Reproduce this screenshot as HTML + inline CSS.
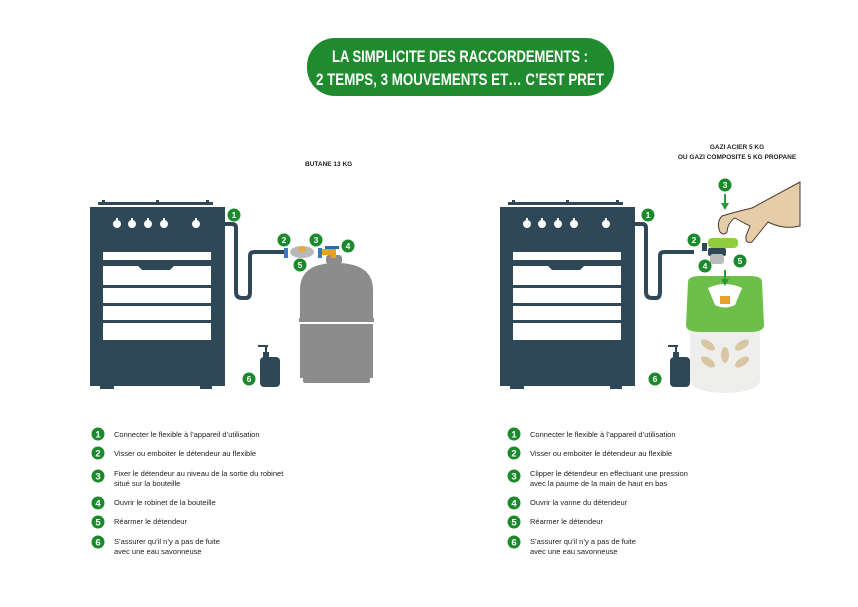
<!DOCTYPE html>
<html><head><meta charset="utf-8"><style>
html,body{margin:0;padding:0;background:#fff}
svg{display:block}
text{font-family:"Liberation Sans",sans-serif}
</style></head><body>
<svg width="858" height="607" viewBox="0 0 858 607" xmlns="http://www.w3.org/2000/svg">
<defs>
<g id="stove">
  <rect x="98" y="202" width="115" height="3" fill="#2f4858"/>
  <rect x="102" y="200" width="3" height="5" fill="#2f4858"/>
  <rect x="156" y="200" width="3" height="5" fill="#2f4858"/>
  <rect x="206" y="200" width="3" height="5" fill="#2f4858"/>
  <rect x="90" y="207" width="135" height="179" fill="#2f4858"/>
  <rect x="100" y="385" width="14" height="4" fill="#2f4858"/>
  <rect x="200" y="385" width="12" height="4" fill="#2f4858"/>
  <g fill="#fff">
    <circle cx="117" cy="224" r="4"/><rect x="116" y="218" width="2" height="4"/>
    <circle cx="132" cy="224" r="4"/><rect x="131" y="218" width="2" height="4"/>
    <circle cx="148" cy="224" r="4"/><rect x="147" y="218" width="2" height="4"/>
    <circle cx="164" cy="224" r="4"/><rect x="163" y="218" width="2" height="4"/>
    <circle cx="196" cy="224" r="4"/><rect x="195" y="218" width="2" height="4"/>
    <rect x="103" y="252" width="108" height="8"/>
    <rect x="103" y="266" width="108" height="19"/>
    <rect x="103" y="288" width="108" height="15"/>
    <rect x="103" y="306" width="108" height="14"/>
    <rect x="103" y="323" width="108" height="17"/>
  </g>
  <path d="M138 266 L142 270 L170 270 L174 266 Z" fill="#2f4858"/>
  <path d="M224 224 L232 224 Q236 224 236 228 L236 292 Q236 298 242 298 L246 298 Q250 298 250 292 L250 256 Q250 252 254 252 L284 252" fill="none" stroke="#2f4858" stroke-width="4"/>
  <rect x="258" y="345" width="10" height="2" fill="#2f4858"/>
  <rect x="265" y="345" width="2" height="8" fill="#2f4858"/>
  <rect x="263" y="352" width="6" height="6" fill="#2f4858"/>
  <rect x="260" y="357" width="20" height="30" rx="4" fill="#2f4858"/>
</g>
<g id="b"><circle r="6.5" fill="#1b8a2c"/></g>
</defs>

<rect x="307" y="38" width="307" height="58" rx="28" fill="#1f8b2e"/>
<text x="460" y="62" text-anchor="middle" font-size="16.5" font-weight="bold" fill="#fff" textLength="256" lengthAdjust="spacingAndGlyphs">LA SIMPLICITE DES RACCORDEMENTS :</text>
<text x="460" y="85" text-anchor="middle" font-size="16.5" font-weight="bold" fill="#fff" textLength="288" lengthAdjust="spacingAndGlyphs">2 TEMPS, 3 MOUVEMENTS ET… C’EST PRET</text>

<text x="305" y="166" font-size="6.5" font-weight="bold" fill="#222">BUTANE 13 KG</text>
<text x="737" y="149" text-anchor="middle" font-size="6.5" font-weight="bold" fill="#222">GAZI ACIER 5 KG</text>
<text x="737" y="159" text-anchor="middle" font-size="6.5" font-weight="bold" fill="#222">OU GAZI COMPOSITE 5 KG PROPANE</text>

<use href="#stove"/>
<path d="M300 290 Q300 263 336 263 Q373 263 373 290 L373 318 L300 318 Z" fill="#8c8c8c"/>
<rect x="299" y="318" width="75" height="4" fill="#8c8c8c"/>
<rect x="300" y="324" width="73" height="54" fill="#8c8c8c"/>
<rect x="303" y="377" width="67" height="6" rx="2" fill="#8c8c8c"/>
<rect x="326" y="255" width="16" height="9" rx="3" fill="#8c8c8c"/>
<rect x="320" y="249" width="16" height="6" fill="#e4a12b"/>
<rect x="331" y="252" width="5" height="6" fill="#e4a12b"/>
<rect x="325" y="246" width="14" height="3" fill="#2d6bb0"/>
<rect x="284" y="248" width="4" height="10" fill="#3d79c0"/>
<rect x="318" y="248" width="4" height="10" fill="#3d79c0"/>
<ellipse cx="302" cy="252" rx="12" ry="6" fill="#b8b8b8"/>
<ellipse cx="302" cy="249" rx="4" ry="3" fill="#e9a93b"/>

<use href="#stove" transform="translate(410,0)"/>
<path d="M690 332 L760 332 L760 380 Q760 392 725 393 Q690 392 690 380 Z" fill="#eeeeec"/>
<g fill="#d9c6a5">
<ellipse cx="708" cy="345" rx="8" ry="4" transform="rotate(35 708 345)"/>
<ellipse cx="742" cy="345" rx="8" ry="4" transform="rotate(-35 742 345)"/>
<ellipse cx="708" cy="362" rx="8" ry="4" transform="rotate(35 708 362)"/>
<ellipse cx="742" cy="362" rx="8" ry="4" transform="rotate(-35 742 362)"/>
<ellipse cx="725" cy="355" rx="4" ry="8"/>
</g>
<path d="M688 282 Q688 276 700 276 L750 276 Q762 276 762 282 L764 325 Q764 332 750 332 L700 332 Q686 332 686 325 Z" fill="#6cc04a"/>
<path d="M708 288 Q725 280 742 288 L735 305 Q725 310 715 305 Z" fill="#fff"/>
<rect x="720" y="296" width="10" height="8" fill="#e4a12b"/>
<path d="M721 279 L729 279 L725 286 Z" fill="#2b9b3a"/>
<rect x="724" y="270" width="2" height="10" fill="#2b9b3a"/>
<rect x="708" y="248" width="18" height="8" rx="2" fill="#2f4858"/>
<rect x="702" y="243" width="5" height="8" fill="#2f4858"/>
<rect x="710" y="254" width="14" height="10" rx="3" fill="#bbb"/>
<rect x="708" y="238" width="30" height="10" rx="4" fill="#8fcf3f"/>
<path d="M720 232 Q716 222 722 216 Q735 212 752 208 L800 182 L800 226 Q784 230 768 222 L752 242 Q745 244 746 236 L750 226 Q742 222 735 218 Q728 222 727 232 Q724 236 720 232 Z" fill="#e6cdaa" stroke="#4a3a2a" stroke-width="1"/>
<path d="M721 203 L729 203 L725 210 Z" fill="#2b9b3a"/>
<rect x="724" y="194" width="2" height="10" fill="#2b9b3a"/>

<g font-size="8.5" font-weight="bold" fill="#fff" text-anchor="middle">
<use href="#b" x="234" y="215"/><text x="234" y="218">1</text>
<use href="#b" x="284" y="240"/><text x="284" y="243">2</text>
<use href="#b" x="316" y="240"/><text x="316" y="243">3</text>
<use href="#b" x="348" y="246"/><text x="348" y="249">4</text>
<use href="#b" x="300" y="265"/><text x="300" y="268">5</text>
<use href="#b" x="249" y="379"/><text x="249" y="382">6</text>
<use href="#b" x="648" y="215"/><text x="648" y="218">1</text>
<use href="#b" x="694" y="240"/><text x="694" y="243">2</text>
<use href="#b" x="725" y="185"/><text x="725" y="188">3</text>
<use href="#b" x="705" y="266"/><text x="705" y="269">4</text>
<use href="#b" x="740" y="261"/><text x="740" y="264">5</text>
<use href="#b" x="655" y="379"/><text x="655" y="382">6</text>
</g>

<g font-size="7.5" fill="#222">
<text x="114" y="437">Connecter le flexible à l’appareil d’utilisation</text>
<text x="114" y="456">Visser ou emboiter le détendeur au flexible</text>
<text x="114" y="476">Fixer le détendeur au niveau de la sortie du robinet</text>
<text x="114" y="486">situé sur la bouteille</text>
<text x="114" y="505">Ouvrir le robinet de la bouteille</text>
<text x="114" y="524">Réarmer le détendeur</text>
<text x="114" y="544">S’assurer qu’il n’y a pas de fuite</text>
<text x="114" y="554">avec une eau savonneuse</text>
<text x="530" y="437">Connecter le flexible à l’appareil d’utilisation</text>
<text x="530" y="456">Visser ou emboiter le détendeur au flexible</text>
<text x="530" y="476">Clipper le détendeur en effectuant une pression</text>
<text x="530" y="486">avec la paume de la main de haut en bas</text>
<text x="530" y="505">Ouvrir la vanne du détendeur</text>
<text x="530" y="524">Réarmer le détendeur</text>
<text x="530" y="544">S’assurer qu’il n’y a pas de fuite</text>
<text x="530" y="554">avec une eau savonneuse</text>
</g>
<g font-size="9.5" font-weight="bold" fill="#fff" text-anchor="middle">
<use href="#b" x="98" y="434"/><text x="98" y="437.5">1</text>
<use href="#b" x="98" y="453"/><text x="98" y="456.5">2</text>
<use href="#b" x="98" y="476"/><text x="98" y="479.5">3</text>
<use href="#b" x="98" y="503"/><text x="98" y="506.5">4</text>
<use href="#b" x="98" y="522"/><text x="98" y="525.5">5</text>
<use href="#b" x="98" y="542"/><text x="98" y="545.5">6</text>
<use href="#b" x="514" y="434"/><text x="514" y="437.5">1</text>
<use href="#b" x="514" y="453"/><text x="514" y="456.5">2</text>
<use href="#b" x="514" y="476"/><text x="514" y="479.5">3</text>
<use href="#b" x="514" y="503"/><text x="514" y="506.5">4</text>
<use href="#b" x="514" y="522"/><text x="514" y="525.5">5</text>
<use href="#b" x="514" y="542"/><text x="514" y="545.5">6</text>
</g>
</svg>
</body></html>
